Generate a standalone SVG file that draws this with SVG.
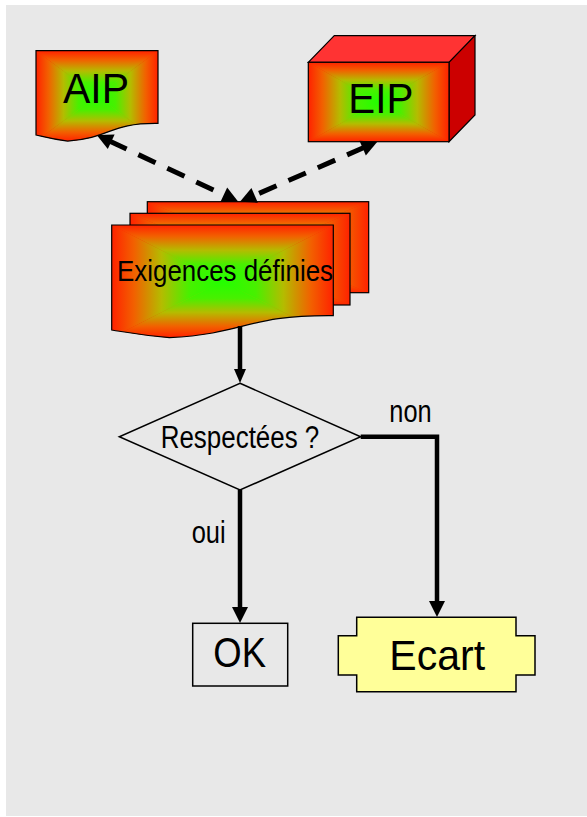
<svg xmlns="http://www.w3.org/2000/svg" width="587" height="817" viewBox="0 0 587 817">
<style>
.t{font-family:"Liberation Sans",Arial,sans-serif;fill:#000;text-anchor:middle}
.ol{fill:none;stroke:#000;stroke-width:1.2}
.con{fill:none;stroke:#000;stroke-width:4.5}
.dash{fill:none;stroke:#000;stroke-width:5;stroke-dasharray:19 13}
</style>
<defs>
<linearGradient id="gT" x1="0" y1="0" x2="0" y2="1">
<stop offset="0" stop-color="#ff2200"/>
<stop offset="0.2" stop-color="#f26000"/>
<stop offset="0.45" stop-color="#b4bc00"/>
<stop offset="0.7" stop-color="#48f000"/>
<stop offset="1" stop-color="#22ff00"/>
</linearGradient>
<linearGradient id="gB" href="#gT" x1="0" y1="1" x2="0" y2="0"/>
<linearGradient id="gL" href="#gT" x1="0" y1="0" x2="1" y2="0"/>
<linearGradient id="gR" href="#gT" x1="1" y1="0" x2="0" y2="0"/>
<radialGradient id="gC" cx="0.5" cy="0.5" r="0.5">
<stop offset="0" stop-color="#22ff00"/>
<stop offset="0.55" stop-color="#b4bc00"/>
<stop offset="1" stop-color="#ff2200"/>
</radialGradient>
<clipPath id="cAIP"><path d="M36,50.7 L158,50.7 L158,123.4 C109.7,122.8 111.3,137.7 67.7,141.2 C52.2,139.1 46.4,137.4 36,135 Z"/></clipPath>
<clipPath id="cEx"><path d="M111.7,225 L333.3,225 L333.3,315.6 C245.6,314.85 248.6,333.4 169.4,337.7 C141,335.1 130.7,333 111.7,330 Z"/></clipPath>
<marker id="mD" markerUnits="userSpaceOnUse" viewBox="0 -10 20 20" markerWidth="20" markerHeight="20" refX="2" refY="0" orient="auto-start-reverse" overflow="visible">
<path d="M0,-8 L16,0 L0,8 Z" fill="#000"/>
</marker>
<marker id="mL" markerUnits="userSpaceOnUse" viewBox="0 -10 20 20" markerWidth="20" markerHeight="20" refX="1" refY="0" orient="auto" overflow="visible">
<path d="M0,-8 L16,0 L0,8 Z" fill="#000"/>
</marker>
<marker id="mS" markerUnits="userSpaceOnUse" viewBox="0 -10 20 20" markerWidth="20" markerHeight="20" refX="1" refY="0" orient="auto" overflow="visible">
<path d="M0,-6 L14,0 L0,6 Z" fill="#000"/>
</marker>
</defs>

<rect x="6" y="5" width="581" height="811" fill="#e8e8e8"/>

<g id="AIP">
<g clip-path="url(#cAIP)">
<rect x="36" y="50.7" width="122" height="90.5" fill="url(#gC)"/>
<polygon points="36,50.7 158,50.7 97,96" fill="url(#gT)"/>
<polygon points="36,141.2 158,141.2 97,96" fill="url(#gB)"/>
<polygon points="36,50.7 36,141.2 97,96" fill="url(#gL)"/>
<polygon points="158,50.7 158,141.2 97,96" fill="url(#gR)"/>
</g>
<path class="ol" d="M36,50.7 L158,50.7 L158,123.4 C109.7,122.8 111.3,137.7 67.7,141.2 C52.2,139.1 46.4,137.4 36,135 Z"/>
<text class="t" x="96" y="103" font-size="42" textLength="66" lengthAdjust="spacingAndGlyphs">AIP</text>
</g>

<g id="EIP">
<polygon points="308.3,62.3 334.3,35.7 475,35.7 449,62.3" fill="#ff3333" stroke="#000" stroke-width="1.2"/>
<polygon points="449,62.3 475,35.7 475,115 449,141.7" fill="#cc0000" stroke="#000" stroke-width="1.2"/>
<rect x="308.3" y="62.3" width="140.7" height="79.4" fill="url(#gC)"/>
<polygon points="308.3,62.3 449,62.3 378.65,102" fill="url(#gT)"/>
<polygon points="308.3,141.7 449,141.7 378.65,102" fill="url(#gB)"/>
<polygon points="308.3,62.3 308.3,141.7 378.65,102" fill="url(#gL)"/>
<polygon points="449,62.3 449,141.7 378.65,102" fill="url(#gR)"/>
<rect class="ol" x="308.3" y="62.3" width="140.7" height="79.4"/>
<text class="t" x="380.8" y="113.3" font-size="42" textLength="65" lengthAdjust="spacingAndGlyphs">EIP</text>
</g>

<g id="Exigences">
<rect x="147.3" y="201.7" width="221.4" height="91" fill="url(#gC)"/>
<polygon points="147.3,201.7 368.7,201.7 258,247.2" fill="url(#gT)"/>
<polygon points="147.3,292.7 368.7,292.7 258,247.2" fill="url(#gB)"/>
<polygon points="147.3,201.7 147.3,292.7 258,247.2" fill="url(#gL)"/>
<polygon points="368.7,201.7 368.7,292.7 258,247.2" fill="url(#gR)"/>
<rect class="ol" x="147.3" y="201.7" width="221.4" height="91"/>
<rect x="130" y="213.3" width="220" height="91.7" fill="url(#gC)"/>
<polygon points="130,213.3 350,213.3 240,259.15" fill="url(#gT)"/>
<polygon points="130,305 350,305 240,259.15" fill="url(#gB)"/>
<polygon points="130,213.3 130,305 240,259.15" fill="url(#gL)"/>
<polygon points="350,213.3 350,305 240,259.15" fill="url(#gR)"/>
<rect class="ol" x="130" y="213.3" width="220" height="91.7"/>
<g clip-path="url(#cEx)">
<rect x="111.7" y="225" width="221.6" height="112.7" fill="url(#gC)"/>
<polygon points="111.7,225 333.3,225 222.5,281.35" fill="url(#gT)"/>
<polygon points="111.7,337.7 333.3,337.7 222.5,281.35" fill="url(#gB)"/>
<polygon points="111.7,225 111.7,337.7 222.5,281.35" fill="url(#gL)"/>
<polygon points="333.3,225 333.3,337.7 222.5,281.35" fill="url(#gR)"/>
</g>
<path class="ol" d="M111.7,225 L333.3,225 L333.3,315.6 C245.6,314.85 248.6,333.4 169.4,337.7 C141,335.1 130.7,333 111.7,330 Z"/>
<text class="t" x="225" y="280.7" font-size="30" textLength="216" lengthAdjust="spacingAndGlyphs">Exigences définies</text>
</g>

<g id="Respectees">
<polygon points="240,383.3 360.7,436.7 240,490 119.3,436.7" fill="#e8e8e8" stroke="#000" stroke-width="1.5"/>
<text class="t" x="240" y="448.3" font-size="31" textLength="158.6" lengthAdjust="spacingAndGlyphs">Respectées ?</text>
</g>

<g id="OK">
<rect x="192.7" y="623.3" width="95" height="62.7" fill="#e8e8e8" stroke="#000" stroke-width="1.5"/>
<text class="t" x="239.7" y="666.7" font-size="43" textLength="52.7" lengthAdjust="spacingAndGlyphs">OK</text>
</g>

<g id="Ecart">
<polygon points="356.7,617.3 516,617.3 516,635.7 535,635.7 535,675 516,675 516,691.7 356.7,691.7 356.7,675 338.3,675 338.3,635.7 356.7,635.7" fill="#ffff99" stroke="#000" stroke-width="1.5"/>
<text class="t" x="437.2" y="670" font-size="42" textLength="95.7" lengthAdjust="spacingAndGlyphs">Ecart</text>
</g>

<g id="connectors">
<path class="dash" d="M109.4,141 L225.6,195.7" marker-start="url(#mD)" marker-end="url(#mD)"/>
<path class="dash" d="M364.5,147.3 L252.8,196.1" marker-start="url(#mD)" marker-end="url(#mD)"/>
<path class="con" d="M240,326 L240,370" marker-end="url(#mS)"/>
<path class="con" d="M240,490 L240,608" marker-end="url(#mL)"/>
<path class="con" d="M360.7,436.7 L437,436.7 L437,602" marker-end="url(#mL)"/>
<text class="t" x="410.5" y="421.7" font-size="31" textLength="42.3" lengthAdjust="spacingAndGlyphs">non</text>
<text class="t" x="208.7" y="542.7" font-size="31" textLength="34" lengthAdjust="spacingAndGlyphs">oui</text>
</g>
</svg>
